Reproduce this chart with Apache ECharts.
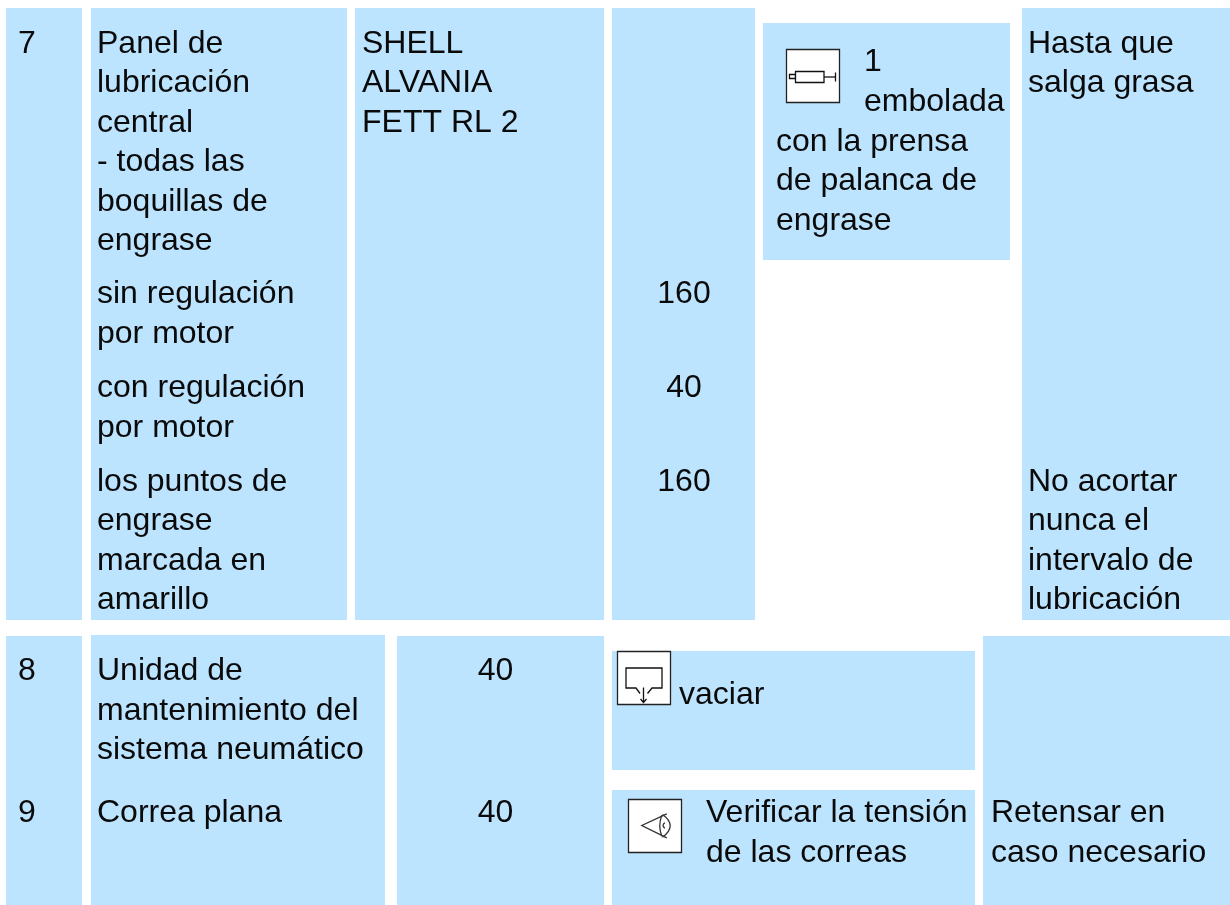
<!DOCTYPE html>
<html>
<head>
<meta charset="utf-8">
<title>Lubricación</title>
<script src="https://cdn.jsdelivr.net/npm/echarts@6/dist/echarts.min.js"></script>
<style>
  html, body { margin: 0; padding: 0; background: #fff; }
  #chart { width: 1230px; height: 905px; }
</style>
</head>
<body>
<div id="chart"></div>
<script>
// table content
const rowNumbers = ['7', '8', '9'];
const panelLines = ['Panel de', 'lubricación', 'central', '- todas las', 'boquillas de', 'engrase'];
const sinRegulacion = ['sin regulación', 'por motor'];
const conRegulacion = ['con regulación', 'por motor'];
const puntosEngrase = ['los puntos de', 'engrase', 'marcada en', 'amarillo'];
const lubricant = ['SHELL', 'ALVANIA', 'FETT RL 2'];
const hoursRow7 = ['160', '40', '160'];
const hoursRow8 = ['40'];
const hoursRow9 = ['40'];
const strokeFirst = ['1', 'embolada'];
const strokeRest = ['con la prensa', 'de palanca de', 'engrase'];
const noteGrease = ['Hasta que', 'salga grasa'];
const noteInterval = ['No acortar', 'nunca el', 'intervalo de', 'lubricación'];
const unitLines = ['Unidad de', 'mantenimiento del', 'sistema neumático'];
const beltName = ['Correa plana'];
const drainAction = ['vaciar'];
const tensionAction = ['Verificar la tensión', 'de las correas'];
const retension = ['Retensar en', 'caso necesario'];

// layout, in page pixels
const LINE = 39.5;
const cellBoxes = [
  [6, 8, 82, 620], [91, 8, 347, 620], [355, 8, 604, 620], [612, 8, 755, 620],
  [763, 23, 1010, 260], [1022, 8, 1230, 620],
  [6, 636, 82, 905], [91, 635, 385, 905], [397, 636, 604, 905],
  [612, 651, 975, 770], [612, 790, 975, 905], [983, 636, 1230, 905]
];
const left = 'left', center = 'center';
const textBlocks = [
  [[rowNumbers[0]], 18, 44, left],
  [panelLines, 97, 44, left],
  [sinRegulacion, 97, 294.6, left],
  [conRegulacion, 97, 388.2, left],
  [puntosEngrase, 97, 481.8, left],
  [lubricant, 362, 44, left],
  [[hoursRow7[0]], 684, 294.6, center],
  [[hoursRow7[1]], 684, 388.2, center],
  [[hoursRow7[2]], 684, 481.8, center],
  [strokeFirst, 864, 62.6, left],
  [strokeRest, 776, 142, left],
  [noteGrease, 1028, 44, left],
  [noteInterval, 1028, 481.8, left],
  [[rowNumbers[1]], 18, 671.6, left],
  [unitLines, 97, 671.6, left],
  [hoursRow8, 495.5, 671.6, center],
  [drainAction, 679, 695.6, left],
  [[rowNumbers[2]], 18, 813.6, left],
  [beltName, 97, 813.6, left],
  [hoursRow9, 495.5, 813.6, center],
  [tensionAction, 706, 813.6, left],
  [retension, 991, 813.6, left]
];

const textItems = [];
textBlocks.forEach(([lines, x, y, align]) => {
  lines.forEach((line, i) => textItems.push([x, y + i * LINE, line, align]));
});

const iconBoxes = [
  [786, 49, 'syringe'],
  [617, 651, 'drain'],
  [628, 799, 'eye']
];

const stroke = { stroke: '#111', lineWidth: 1.3, fill: null };
const grey = { stroke: '#333', lineWidth: 1.3, fill: null };
const iconShapes = {
  syringe: [
    { type: 'rect', shape: { x: 3, y: 25, width: 6, height: 4 }, style: stroke },
    { type: 'rect', shape: { x: 9, y: 22, width: 28.5, height: 11 }, style: { stroke: '#111', lineWidth: 1.3, fill: '#fff' } },
    { type: 'line', shape: { x1: 37.5, y1: 27.5, x2: 49, y2: 27.5 }, style: stroke },
    { type: 'line', shape: { x1: 49, y1: 23, x2: 49, y2: 32 }, style: stroke }
  ],
  drain: [
    { type: 'polyline', shape: { points: [[22.5, 42], [18.5, 36.5], [8.5, 36.5], [8.5, 16.5], [44.5, 16.5], [44.5, 36.5], [34.5, 36.5], [30, 42]] }, style: stroke },
    { type: 'line', shape: { x1: 26, y1: 36, x2: 26, y2: 50.5 }, style: stroke },
    { type: 'polyline', shape: { points: [[23, 47.5], [26, 51], [29, 47.5]] }, style: stroke }
  ],
  eye: [
    { type: 'polyline', shape: { points: [[38.3, 14.3], [13.3, 26], [38.3, 38.3]] }, style: grey },
    { type: 'bezierCurve', shape: { x1: 34, y1: 15, cpx1: 49.4, cpy1: 26, x2: 34, y2: 37.7 }, style: grey },
    { type: 'bezierCurve', shape: { x1: 33.3, y1: 15.7, cpx1: 29.3, cpy1: 26, x2: 33.3, y2: 36.7 }, style: grey },
    { type: 'arc', shape: { cx: 37.3, cy: 26, r: 2.7, startAngle: Math.PI * 0.6, endAngle: Math.PI * 1.4 }, style: grey }
  ]
};

const chart = echarts.init(document.getElementById('chart'), null, { renderer: 'canvas' });

chart.setOption({
  animation: false,
  backgroundColor: '#fff',
  tooltip: { show: false },
  grid: { left: 0, right: 0, top: 0, bottom: 0 },
  xAxis: { type: 'value', min: 0, max: 1230, show: false },
  yAxis: { type: 'value', min: 0, max: 905, inverse: true, show: false },
  series: [
    {
      name: 'cells',
      type: 'custom',
      silent: true,
      clip: false,
      z: 1,
      data: cellBoxes,
      encode: { x: [0, 2], y: [1, 3] },
      renderItem(params, api) {
        const a = api.coord([api.value(0), api.value(1)]);
        const b = api.coord([api.value(2), api.value(3)]);
        return {
          type: 'rect',
          shape: { x: a[0], y: a[1], width: b[0] - a[0], height: b[1] - a[1] },
          style: { fill: '#BDE4FF' }
        };
      }
    },
    {
      name: 'icons',
      type: 'custom',
      silent: true,
      clip: false,
      z: 2,
      data: iconBoxes,
      encode: { x: 0, y: 1 },
      renderItem(params, api) {
        const p = api.coord([api.value(0), api.value(1)]);
        const kind = iconBoxes[params.dataIndex][2];
        return {
          type: 'group',
          x: p[0] + 0.5,
          y: p[1] + 0.5,
          children: [
            { type: 'rect', shape: { x: 0, y: 0, width: 53, height: 53 }, style: { fill: '#fff', stroke: '#222', lineWidth: 1.3 } }
          ].concat(iconShapes[kind])
        };
      }
    },
    {
      name: 'text',
      type: 'custom',
      silent: true,
      clip: false,
      z: 3,
      data: textItems,
      encode: { x: 0, y: 1 },
      renderItem(params, api) {
        const item = textItems[params.dataIndex];
        const p = api.coord([item[0], item[1]]);
        return {
          type: 'text',
          style: {
            x: p[0],
            y: p[1],
            text: item[2],
            align: item[3],
            verticalAlign: 'middle',
            fill: '#0a0a0a',
            font: '32px "Liberation Sans", Arial, sans-serif'
          }
        };
      }
    }
  ]
});
</script>
</body>
</html>
